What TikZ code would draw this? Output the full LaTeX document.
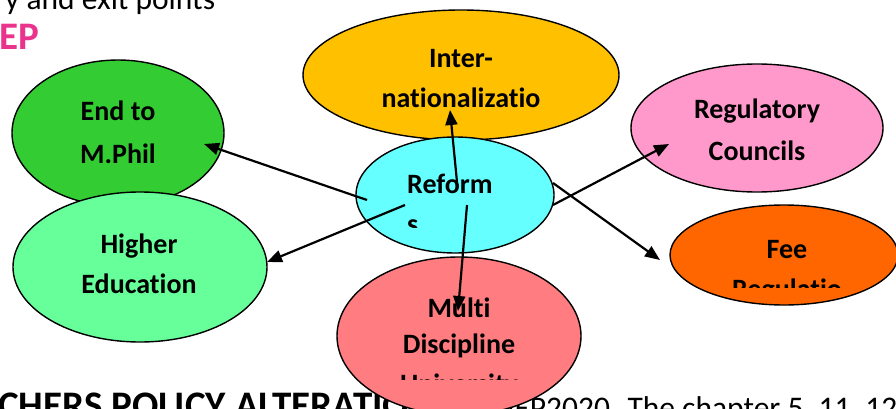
\documentclass[tikz,border=0pt]{standalone}
\usepackage{fontspec}
\setmainfont{Carlito}[Ligatures={NoCommon}]
\usetikzlibrary{shapes.geometric,arrows.meta}
\definecolor{pinkhead}{RGB}{233,51,140}
\definecolor{cMphil}{HTML}{33CC33}
\definecolor{cHigher}{HTML}{66FF99}
\definecolor{cInter}{HTML}{FFC000}
\definecolor{cReform}{HTML}{66FFFF}
\definecolor{cRegul}{HTML}{FF99CC}
\definecolor{cFee}{HTML}{FF6600}
\definecolor{cMulti}{HTML}{FF7C80}
\begin{document}
\begin{tikzpicture}[x=1pt,y=-1pt,
  bubble/.style={ellipse, draw=black, line width=1.4pt, inner sep=0pt},
  lbl/.style={font=\bfseries\fontsize{28}{41}\selectfont, inner sep=0pt, anchor=base},
  lblw/.style={font=\bfseries\fontsize{28}{41}\selectfont, inner sep=0pt, anchor=base west},
  bodytxt/.style={font=\fontsize{31.5}{36}\selectfont, inner sep=0pt, anchor=base west},
  headtxt/.style={font=\bfseries\fontsize{39}{44}\selectfont, inner sep=0pt, anchor=base west},
  conn/.style={line width=2.2pt, -{Triangle[length=15pt,width=12pt]}},
]
\useasboundingbox (0,0) rectangle (896,409);
\clip (0,0) rectangle (896,409);

% page text
\node[bodytxt] (t1) at (5,10) {y and exit points};
\node[headtxt, text=pinkhead] (t2) at (-1,50) {EP};
\node[headtxt] (t3) at (-2,418) {CHERS POLICY ALTERATIO};
\node[bodytxt] (t4) at (494,418) {NEP2020. The chapter 5, 11, 12};

% bubbles
\node[bubble, fill=cInter, minimum width=316pt, minimum height=130pt] (inter) at (461,75) {};
\node[bubble, fill=cReform, minimum width=198pt, minimum height=116pt] (reforms) at (455,195) {};
\node[bubble, fill=cMphil, minimum width=212pt, minimum height=146pt] (mphil) at (118,133) {};
\node[bubble, fill=cHigher, minimum width=254pt, minimum height=150pt] (higher) at (140,267) {};
\node[bubble, fill=cRegul, minimum width=252pt, minimum height=128pt] (regul) at (757,128) {};
\node[bubble, fill=cFee, minimum width=228pt, minimum height=100pt] (fee) at (784,255) {};
\node[bubble, fill=cMulti, minimum width=244pt, minimum height=158pt] (multi) at (459,336) {};

% labels
\node[lbl] (l1a) at (118,121) {End to};
\node[lbl] (l1b) at (118,163) {M.Phil};
\node[lbl] (l2a) at (139,253) {Higher};
\node[lbl] (l2b) at (139,293) {Education};
\node[lbl] (l3a) at (461,68) {Inter-};
\node[lbl] (l3b) at (461,108) {nationalizatio};
\node[lblw] (l4a) at (407,193) {Reform};
\begin{scope}
  \clip (380,150) rectangle (540,227);
  \node[lblw] (l4b) at (407,233) {s};
\end{scope}
\node[lbl] (l5a) at (757,118) {Regulatory};
\node[lbl] (l5b) at (757,160) {Councils};
\node[lbl] (l6a) at (787,258) {Fee};
\begin{scope}
  \clip (700,230) rectangle (880,287);
  \node[lbl] (l6b) at (787,298) {Regulatio};
\end{scope}
\node[lbl] (l7a) at (459,317) {Multi};
\node[lbl] (l7b) at (459,353) {Discipline};
\begin{scope}
  \clip (380,290) rectangle (540,379);
  \node[lbl] (l7c) at (459,393) {University};
\end{scope}

% connector end points
\coordinate (a1s) at (367,200); \coordinate (a1e) at (204,144);
\coordinate (a2s) at (405,205); \coordinate (a2e) at (267,262);
\coordinate (a3s) at (457,182); \coordinate (a3e) at (450,110);
\coordinate (a4s) at (467,205); \coordinate (a4e) at (458,311);
\coordinate (a5s) at (553,205); \coordinate (a5e) at (669,144);
\coordinate (a6s) at (553,183); \coordinate (a6e) at (660,260);

\draw[conn] (a1s) -- (a1e);
\draw[conn] (a2s) -- (a2e);
\draw[conn] (a3s) -- (a3e);
\draw[conn] (a4s) -- (a4e);
\draw[conn] (a5s) -- (a5e);
\draw[conn] (a6s) -- (a6e);
\end{tikzpicture}
\end{document}
